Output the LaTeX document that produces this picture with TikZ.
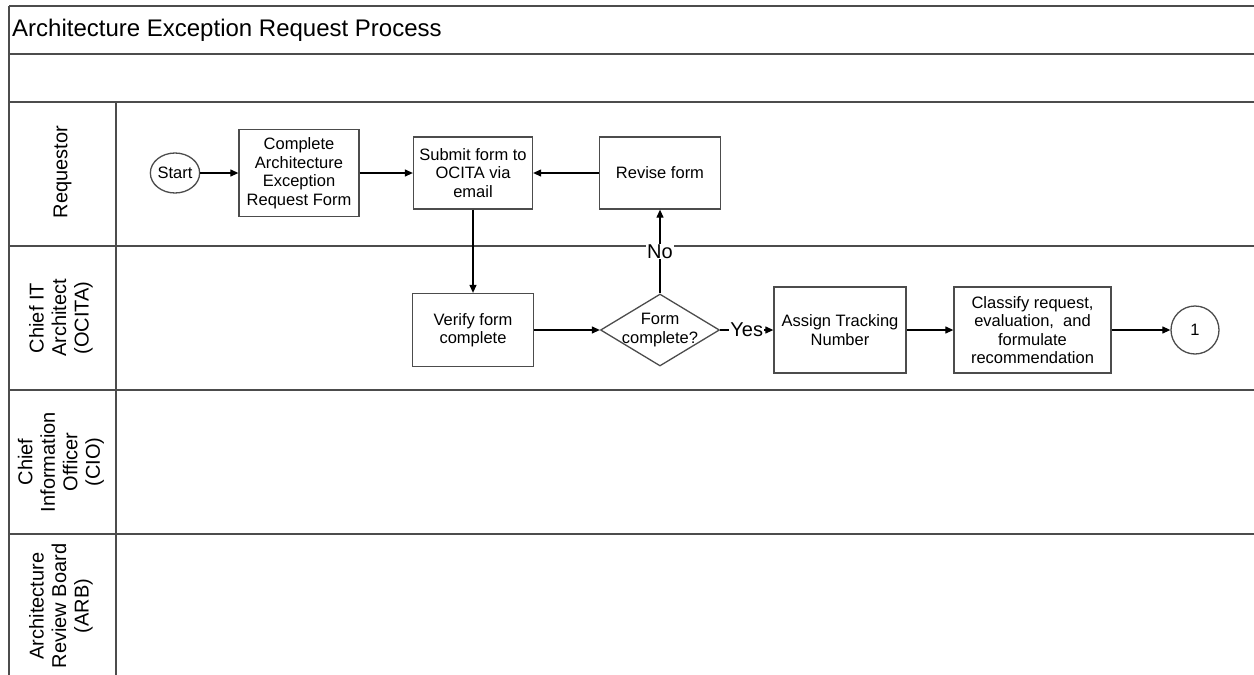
\documentclass[tikz,border=0pt]{standalone}
\usepackage{fontspec}
\setmainfont{Liberation Sans}
\usepackage{tikz}
\usetikzlibrary{shapes,shapes.geometric,arrows.meta}
\definecolor{lanecol}{rgb}{0.3, 0.3, 0.3}
\tikzstyle{lane}=[draw=lanecol, line width=1.8pt]
\tikzstyle{lanelab}=[rotate=90, align=center, inner sep=0pt, font=\fontsize{20}{22.5}\selectfont]
\tikzstyle{procbox}=[draw=lanecol, rectangle, line width=1.3pt, align=center, inner sep=1pt, font=\fontsize{16.5}{18.5}\selectfont]
\tikzstyle{endpt}=[draw=lanecol, ellipse, line width=1.3pt, inner sep=0pt, font=\fontsize{16.5}{18.5}\selectfont]
\tikzstyle{flow}=[-{Triangle[length=8pt,width=7pt]}, line width=1.2pt]
\tikzstyle{lbl}=[fill=white, inner sep=1pt, font=\fontsize{20}{22}\selectfont]

\begin{document}
\begin{tikzpicture}[x=1pt,y=-1pt]
\useasboundingbox (0,0) rectangle (1254,675);
% lanes
\foreach \y in {6,54,102,246,390,534}
  \draw[lane] (9,\y) -- (1254,\y);
\draw[lane] (9,6) -- (9,675);
\draw[lane] (116,102) -- (116,675);
\node[anchor=west, inner sep=0pt, font=\fontsize{24}{26}\selectfont] (ttl) at (12,30) {Architecture Exception Request Process};
\node[lanelab] (rq) at (62.5,172) {Requestor};
\node[lanelab] (ita) at (61,318) {Chief IT\\Architect\\(OCITA)};
\node[lanelab] (cio) at (61,462) {Chief\\Information\\Officer\\(CIO)};
\node[lanelab] (arb) at (61,606) {Architecture\\Review Board\\(ARB)};
% steps
\node[endpt, minimum width=47pt, minimum height=40pt] (st) at (175,173) {Start};
\node[procbox, minimum width=120pt, minimum height=87pt] (cp) at (299,173) {Complete\\Architecture\\Exception\\Request Form};
\node[procbox, minimum width=119pt, minimum height=72pt] (sf) at (473,173) {Submit form to\\OCITA via\\email};
\node[procbox, minimum width=121pt, minimum height=72pt] (rv) at (660,173) {Revise form};
\node[procbox, minimum width=121pt, minimum height=73pt] (vf) at (473,330) {Verify form\\complete};
\node[draw=lanecol, diamond, line width=1.3pt, inner sep=0pt, minimum width=119pt, minimum height=72pt,
  label={[align=center, font=\fontsize{16.5}{18.5}\selectfont]center:Form\\complete?}] (fc) at (660,330) {};
\node[procbox, minimum width=132pt, minimum height=86pt] (at) at (840,330) {Assign Tracking\\Number};
\node[procbox, minimum width=157pt, minimum height=86pt] (cl) at (1032.5,330) {Classify request,\\evaluation,~ and\\formulate\\recommendation};
\node[endpt, minimum size=48pt] (on) at (1195,330) {1};
\draw[flow] (st) -- (cp);
\draw[flow] (cp) -- (sf);
\draw[flow] (rv) -- (sf);
\draw[flow] (sf) -- (vf);
\draw[flow] (vf) -- (fc);
\draw[flow] (fc) -- node[lbl] {Yes} (at);
\draw[flow] (fc) -- node[lbl] {No} (rv);
\draw[flow] (at) -- (cl);
\draw[flow] (cl) -- (on);
\end{tikzpicture}
\end{document}
